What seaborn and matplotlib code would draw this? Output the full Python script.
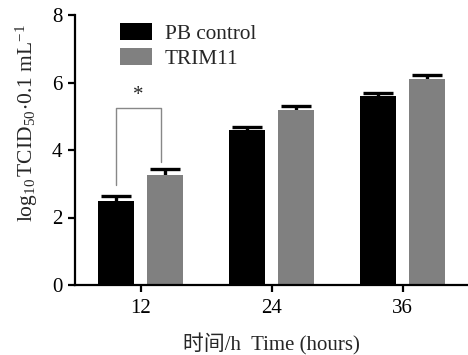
import numpy as np
import pandas as pd
import matplotlib
matplotlib.use("Agg")
import matplotlib.pyplot as plt
from matplotlib.patches import Patch
import seaborn as sns

# values
times = ["12", "24", "36"]
groups = ["PB control", "TRIM11"]
control_mean = [2.50, 4.59, 5.60]
control_err = [0.14, 0.10, 0.08]
trim11_mean = [3.26, 5.20, 6.10]
trim11_err = [0.17, 0.11, 0.13]
colors = ["#000000", "#808080"]

sns.set_theme(style="ticks")
plt.rcParams["font.family"] = ["Liberation Serif", "Noto Sans CJK SC"]
plt.rcParams["mathtext.fontset"] = "custom"
plt.rcParams["mathtext.rm"] = "Liberation Serif"
plt.rcParams["mathtext.it"] = "Liberation Serif:italic"

df = pd.DataFrame({
    "time": times * 2,
    "group": [groups[0]] * 3 + [groups[1]] * 3,
    "value": control_mean + trim11_mean,
    "err": control_err + trim11_err,
})

fig = plt.figure(figsize=(4.68, 3.55), dpi=100)
ax = fig.add_axes([75 / 468, 70 / 355, 393 / 468, 270 / 355])

sns.barplot(data=df, x="time", y="value", hue="group", palette=colors,
            width=0.75, gap=0.27, errorbar=None, saturation=1,
            linewidth=0, ax=ax, legend=False, zorder=2)

# error bars (upper only) on each bar, drawn behind the bars
for cont, errs in zip(ax.containers, [control_err, trim11_err]):
    for bar, e in zip(cont, errs):
        xc = bar.get_x() + bar.get_width() / 2
        h = bar.get_height()
        eb = ax.errorbar(xc, h, yerr=[[0], [e]], fmt="none", ecolor="black",
                         elinewidth=2.4, capsize=11, capthick=2.4, zorder=1)
        # hide the lower cap sitting on the bar top
        eb[1][0].set_visible(False)

# significance bracket at 12 h
b0 = ax.containers[0][0]
b1 = ax.containers[1][0]
x0 = b0.get_x() + b0.get_width() / 2
x1 = b1.get_x() + b1.get_width() / 2 - 0.03
ytop = 5.25
ax.plot([x0, x0, x1, x1], [2.96, ytop, ytop, 3.65], color="#888888", lw=1.0,
        zorder=3)
ax.text((x0 + x1) / 2, ytop + 0.08, "*", ha="center", va="bottom", fontsize=15)

ax.set_ylim(0, 8)
ax.set_xlim(-0.5, 2.5)
ax.set_yticks([0, 2, 4, 6, 8])
sns.despine(ax=ax)
for s in ["left", "bottom"]:
    ax.spines[s].set_linewidth(1.6)
    ax.spines[s].set_color("black")
ax.tick_params(axis="both", length=5, width=1.6, labelsize=15, color="black",
               labelcolor="black")
ax.tick_params(axis="x", pad=5)
ax.tick_params(axis="y", pad=4)

ax.set_xlabel("时间/h  Time (hours)", fontsize=15, labelpad=11)
ax.set_ylabel(r"$\mathregular{log_{10}\,TCID_{50}\!\cdot\!0.1\ mL^{-1}}$",
              fontsize=15.5)
ax.yaxis.set_label_coords(-0.09, 0.60)

handles = [Patch(facecolor=c, edgecolor="none") for c in colors]
ax.legend(handles, groups, loc="upper left", bbox_to_anchor=(0.093, 1.0),
          frameon=False, fontsize=15.3, handlelength=1.5, handleheight=0.8,
          handletextpad=0.6, labelspacing=0.2, borderaxespad=0.0)

fig.savefig("out.png", dpi=100)
